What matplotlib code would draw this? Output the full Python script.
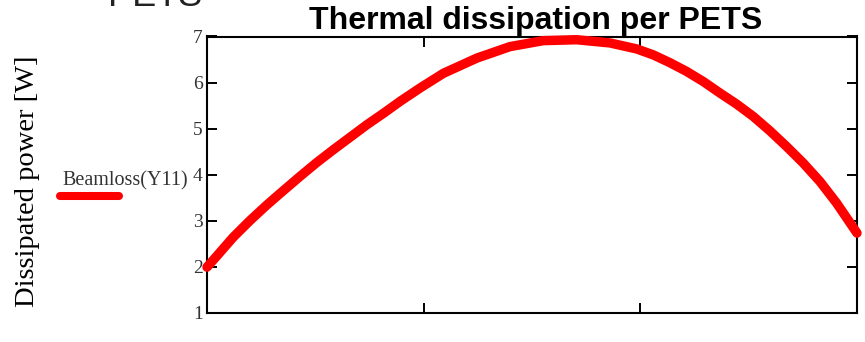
import matplotlib
matplotlib.use("Agg")
import matplotlib.pyplot as plt
from matplotlib.lines import Line2D

# Data
x_vals = [0.0, 0.045, 0.121, 0.198, 0.276, 0.352, 0.429, 0.506, 0.583, 0.660,
          0.737, 0.814, 0.891, 0.983, 1.091, 1.245, 1.398, 1.552, 1.706,
          1.860, 1.983, 2.060, 2.137, 2.214, 2.291, 2.368, 2.445, 2.522,
          2.598, 2.675, 2.752, 2.829, 2.906, 3.0]
beamloss = [1.99, 2.23, 2.64, 3.00, 3.34, 3.65, 3.96, 4.26, 4.54, 4.81,
            5.08, 5.33, 5.59, 5.88, 6.20, 6.53, 6.78, 6.91, 6.93,
            6.86, 6.73, 6.60, 6.43, 6.24, 6.02, 5.77, 5.53, 5.26,
            4.95, 4.61, 4.25, 3.85, 3.38, 2.73]
y_ticks = [1, 2, 3, 4, 5, 6, 7]
x_ticks = [1, 2]
series_label = "Beamloss(Y11)"
title = "Thermal dissipation per PETS"
y_label = "Dissipated power [W]"

W, H = 865, 342
fig = plt.figure(figsize=(W / 100, H / 100), dpi=100)
ax = fig.add_axes([207 / W, 1 - 312.7 / H, (857 - 207) / W, (312.7 - 36.5) / H])

serif = ["Liberation Serif", "DejaVu Serif"]
sans = ["Liberation Sans", "DejaVu Sans"]

ax.plot(x_vals, beamloss, color="#ff0000", lw=6.8, solid_capstyle="round",
        solid_joinstyle="round", clip_on=False, zorder=5)

ax.set_xlim(0, 3)
ax.set_ylim(1, 7)
ax.set_yticks(y_ticks)
ax.set_xticks(x_ticks)
ax.set_xticklabels([])
ax.tick_params(axis="both", direction="in", length=7.5, width=1.4,
               top=True, right=True, color="black")
ax.tick_params(axis="y", pad=3, labelsize=14, labelcolor="#333333")
for lab in ax.get_yticklabels():
    lab.set_fontfamily(serif)
for s in ax.spines.values():
    s.set_linewidth(1.5)
    s.set_color("black")

# Title overlapping the top of the axes
ax.text(0.506, 1 + (36.5 - 29) / 276.2, title, transform=ax.transAxes,
        ha="center", va="baseline", fontsize=23, fontweight="bold",
        family=sans, color="black", zorder=6)

# Remnant of larger heading at top-left
fig.text(108 / W, 1 - 6 / H, "PETS", ha="left", va="baseline",
         fontsize=26, family=sans, color="#222222")

# Y label
fig.text(28 / W, 1 - 181 / H, y_label, rotation=90, ha="center", va="center",
         fontsize=20.5, family=serif, color="black")

# Legend (text above a line sample)
fig.text(62 / W, 1 - 185 / H, series_label, ha="left", va="baseline",
         fontsize=14.5, family=serif, color="#333333")
fig.add_artist(Line2D([60 / W, 119 / W], [1 - 195.7 / H, 1 - 195.7 / H],
                      transform=fig.transFigure, color="#ff0000", lw=5.8,
                      solid_capstyle="round"))

fig.savefig("out.png", dpi=100)
